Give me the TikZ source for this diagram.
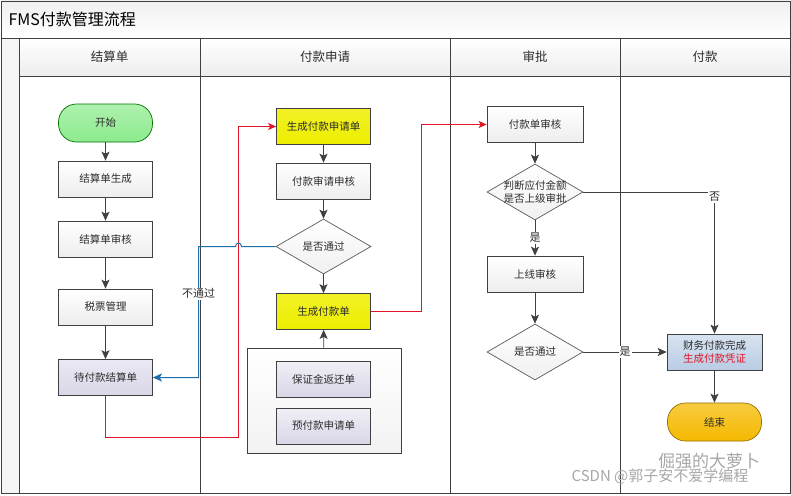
\documentclass[tikz,border=0pt]{standalone}
\usepackage{fontspec}
\setmainfont{Noto Sans CJK SC}
\definecolor{laneline}{RGB}{64, 64, 64}
\definecolor{inkgray}{RGB}{45, 45, 45}
\definecolor{startgreen}{RGB}{140, 235, 140}
\definecolor{endorange}{RGB}{245, 185, 0}
\definecolor{formyellow}{RGB}{238, 238, 0}
\definecolor{pendlilac}{RGB}{218, 214, 232}
\definecolor{donesky}{RGB}{184, 204, 228}
\definecolor{flowred}{RGB}{225, 20, 40}
\definecolor{flowblue}{RGB}{30, 110, 170}
\usetikzlibrary{shapes.geometric, arrows.meta, positioning}

\begin{document}
\begin{tikzpicture}[x=1pt, y=-1pt,
  lane/.style={draw=laneline, line width=0.8pt},
  nodefont/.style={font=\fontsize{10.5}{13}\selectfont, text=inkgray},
  proc/.style={draw=laneline, line width=0.7pt, top color=white, bottom color=gray!14, minimum width=94pt, minimum height=36pt, inner sep=2pt, align=center, nodefont},
  term/.style={proc, rounded corners=18pt, minimum height=38pt},
  decision/.style={diamond, aspect=1.7, draw=gray!70!black, line width=0.7pt, top color=white, bottom color=gray!12, minimum width=95pt, minimum height=55pt, inner xsep=-6pt, inner ysep=-1pt, align=center, nodefont},
  flow/.style={draw=laneline, line width=0.8pt, -{Stealth[length=9pt, width=8pt, inset=2pt]}},
  redline/.style={draw=flowred, line width=1.3pt},
  redflow/.style={redline, -{Stealth[length=8pt, width=7pt, inset=2pt]}},
  blueflow/.style={draw=flowblue, line width=1pt, -{Stealth[length=9pt, width=8pt, inset=2pt]}},
  lbl/.style={fill=white, inner sep=1pt, nodefont, font=\fontsize{11}{13}\selectfont}]
\useasboundingbox (0,0) rectangle (791,495);

% Frame, title bar and lanes
\fill[top color=gray!12, bottom color=white] (1,1) rectangle (790,38);
\fill[top color=white, bottom color=gray!14] (19,38) rectangle (790,76);
\fill[gray!8] (1,38) rectangle (19,493);
\draw[lane] (1,1) rectangle (790,493);
\draw[lane] (1,38) -- (790,38);
\draw[lane] (19,76) -- (790,76);
\foreach \lx in {19, 200, 450, 620}
  \draw[lane] (\lx,38) -- (\lx,493);
\node[anchor=west, font=\fontsize{16}{18}\selectfont, text=black] (title) at (5,19) {FMS付款管理流程};
\node[font=\fontsize{12.5}{14}\selectfont, text=inkgray] (hsettle) at (109.5,57) {结算单};
\node[font=\fontsize{12.5}{14}\selectfont, text=inkgray] (hrequest) at (325,57) {付款申请};
\node[font=\fontsize{12.5}{14}\selectfont, text=inkgray] (happrove) at (535,57) {审批};
\node[font=\fontsize{12.5}{14}\selectfont, text=inkgray] (hpay) at (705,57) {付款};

% Settlement lane
\node[term, draw=green!45!black, top color=startgreen!70, bottom color=startgreen] (start) at (105.5,123) {开始};
\node[proc] (sgen) at (105.5,179) {结算单生成};
\node[proc] (saudit) at (105.5,239) {结算单审核};
\node[proc] (tax) at (105.5,307) {税票管理};
\node[proc, top color=pendlilac!55, bottom color=pendlilac] (pend) at (105.5,377.5) {待付款结算单};

% Request lane
\node[proc, top color=formyellow!85, bottom color=formyellow] (reqgen) at (323.5,126.5) {生成付款申请单};
\node[proc] (reqaudit) at (323.5,181) {付款审请申核};
\node[decision] (reqok) at (323.5,246.5) {是否通过};
\node[proc, top color=formyellow!85, bottom color=formyellow] (paygen) at (323.5,311.5) {生成付款单};
\node[draw=laneline, line width=0.7pt, top color=white, bottom color=gray!10, minimum width=154pt, minimum height=105pt] (pgroup) at (324,400.5) {};
\node[proc, top color=pendlilac!40, bottom color=pendlilac] (deposit) at (323.5,379) {保证金返还单};
\node[proc, top color=pendlilac!40, bottom color=pendlilac] (prepay) at (323.5,426) {预付款申请单};

% Approval lane
\node[proc, minimum width=96pt] (payaudit) at (535,124.5) {付款单审核};
\node[decision, minimum width=96pt, minimum height=56pt] (amtchk) at (535,192) {判断应付金额\\是否上级审批};
\node[proc, minimum width=96pt] (online) at (535,274) {上线审核};
\node[decision, minimum width=96pt, minimum height=56pt] (passchk) at (535,352) {是否通过};

% Payment lane
\node[proc, minimum width=95pt, top color=donesky!55, bottom color=donesky] (done) at (714.5,352) {财务付款完成\\{\color{flowred}生成付款凭证}};
\node[term, draw=endorange!60!black, top color=endorange!75, bottom color=endorange] (finish) at (714.5,422) {结束};

% Connectors
\draw[flow] (start) -- (sgen);
\draw[flow] (sgen) -- (saudit);
\draw[flow] (saudit) -- (tax);
\draw[flow] (tax) -- (pend);
\draw[flow] (reqgen) -- (reqaudit);
\draw[flow] (reqaudit) -- (reqok);
\draw[flow] (reqok) -- (paygen);
\draw[flow] (pgroup) -- (paygen);
\draw[flow] (payaudit) -- (amtchk);
\draw[flow] (amtchk) -- node[lbl] {是} (online);
\draw[flow] (online) -- (passchk);
\draw[flow] (passchk) -- node[lbl, pos=0.5] {是} (done);
\draw[flow] (amtchk.east) -| node[lbl, pos=0.5, yshift=-5pt] {否} (done.north);
\draw[flow] (done) -- (finish);

% Red and blue routes
\coordinate (ra) at (238.5,437.5);
\coordinate (rb) at (421.5,311.5);
\coordinate (bb) at (198.5,0);
\draw[redline] (pend.south) |- (ra);
\draw[redflow] (ra) |- (reqgen.west);
\draw[redline] (paygen.east) -- (rb);
\draw[redflow] (rb) |- (payaudit.west);
\draw[blueflow] (reqok.west) -- (241.5,246.5) .. controls (241.5,242) and (235.5,242) .. (235.5,246.5)
  -- (reqok.west -| bb) -- node[lbl, pos=0.36] {不通过} (pend.east -| bb) -- (pend.east);

% Watermark
\node[font=\fontsize{17}{19}\selectfont, text=black!35] (wmname) at (709,461) {倔强的大萝卜};
\node[font=\fontsize{15}{17}\selectfont, text=black!35] (wmcsdn) at (660,476) {CSDN @郭子安不爱学编程};
\end{tikzpicture}
\end{document}
